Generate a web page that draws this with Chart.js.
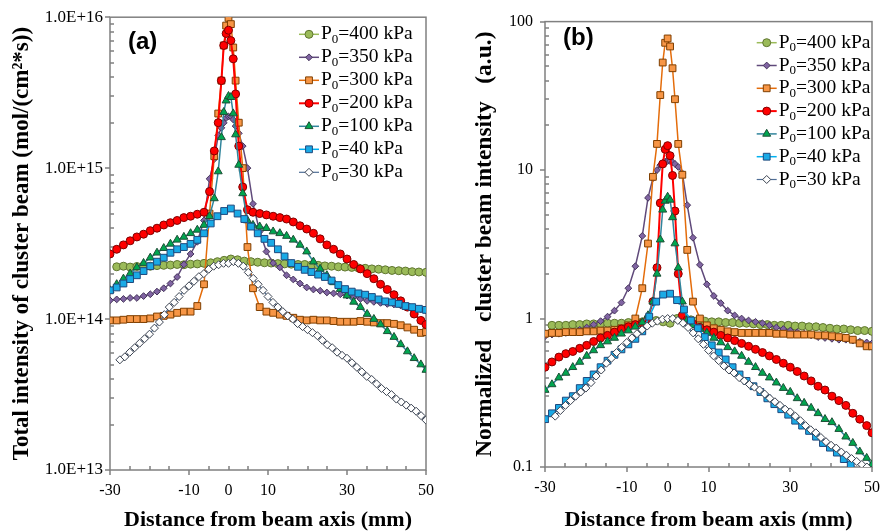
<!DOCTYPE html>
<html>
<head>
<meta charset="utf-8">
<script src="https://cdn.jsdelivr.net/npm/chart.js@4.4.0/dist/chart.umd.min.js"></script>
<style>
  html, body { margin: 0; padding: 0; background: #fff; }
  #wrap { position: relative; width: 891px; height: 531px; }
  #chartA { position: absolute; left: 0; top: 0; }
  #chartB { position: absolute; left: 445px; top: 0; }
</style>
</head>
<body>
<div id="wrap">
  <canvas id="chartA" width="445" height="531"></canvas>
  <canvas id="chartB" width="446" height="531"></canvas>
</div>
<script>
// pressures (legend order)
var pressures = ['400', '350', '300', '200', '100', '40', '30'];

// x positions (mm)
var xGrid = [-30, -28.3, -26.6, -24.9, -23.2, -21.5, -19.8, -18.1, -16.4, -14.7, -13, -11.3, -9.6, -7.9, -6.2,
  -4.8, -3.6, -2.6, -1.8, -1.2, -0.6, 0, 0.6, 1.2, 1.8, 2.6, 3.6, 4.8, 6.2, 7.9, 9.6, 11.3, 13, 14.7, 16.4,
  18.1, 19.8, 21.5, 23.2, 24.9, 26.6, 28.3, 30, 31.7, 33.4, 35.1, 36.8, 38.5, 40.2, 41.9, 43.6, 45.3, 47, 48.7, 50];
var xUni = [-30, -28.3, -26.6, -24.9, -23.2, -21.5, -19.8, -18.1, -16.4, -14.7, -13, -11.3, -9.6, -7.9, -6.2,
  -4.5, -2.8, -1.1, 0.6, 2.3, 4, 5.7, 7.4, 9.1, 10.8, 12.5, 14.2, 15.9, 17.6, 19.3, 21, 22.7, 24.4, 26.1,
  27.8, 29.5, 31.2, 32.9, 34.6, 36.3, 38, 39.7, 41.4, 43.1, 44.8, 46.5, 48.2, 50];
var x400 = [-28.3, -26.6, -24.9, -23.2, -21.5, -19.8, -18.1, -16.4, -14.7, -13, -11.3, -9.6, -7.9, -6.2,
  -4.5, -2.8, -1.1, 0.6, 2.3, 4, 5.7, 7.4, 9.1, 10.8, 12.5, 14.2, 15.9, 17.6, 19.3, 21, 22.7, 24.4, 26.1,
  27.8, 29.5, 31.2, 32.9, 34.6, 36.3, 38, 39.7, 41.4, 43.1, 44.8, 46.5, 48.2, 50];
var xFine = [-27.5, -26.25, -25, -23.75, -22.5, -21.25, -20, -18.75, -17.5, -16.25, -15, -13.75, -12.5, -11.25,
  -10, -8.75, -7.5, -6.25, -5, -3.75, -2.5, -1.25, 0, 1.25, 2.5, 3.75, 5, 6.25, 7.5, 8.75, 10, 11.25, 12.5,
  13.75, 15, 16.25, 17.5, 18.75, 20, 21.25, 22.5, 23.75, 25, 26.25, 27.5, 28.75, 30, 31.25, 32.5, 33.75, 35,
  36.25, 37.5, 38.75, 40, 41.25, 42.5, 43.75, 45, 46.25, 47.5, 48.75, 50];

// (a) total intensity, mol/(cm2*s)
var a400 = [2.22e14, 2.24e14, 2.21e14, 2.23e14, 2.25e14, 2.24e14, 2.26e14, 2.27e14, 2.28e14, 2.3e14, 2.29e14,
  2.31e14, 2.32e14, 2.34e14, 2.36e14, 2.4e14, 2.45e14, 2.5e14, 2.47e14, 2.42e14, 2.4e14, 2.38e14, 2.36e14,
  2.35e14, 2.33e14, 2.32e14, 2.31e14, 2.3e14, 2.3e14, 2.28e14, 2.27e14, 2.25e14, 2.24e14, 2.22e14, 2.21e14,
  2.2e14, 2.18e14, 2.17e14, 2.15e14, 2.14e14, 2.12e14, 2.1e14, 2.09e14, 2.08e14, 2.06e14, 2.05e14, 2.04e14];
var a350 = [1.33e14, 1.35e14, 1.36e14, 1.38e14, 1.38e14, 1.42e14, 1.46e14, 1.52e14, 1.6e14, 1.72e14, 1.9e14,
  2.3e14, 2.7e14, 3.25e14, 4.5e14, 8.5e14, 1.15e15, 1.65e15, 1.85e15, 2.0e15, 2.15e15, 2.2e15, 2.2e15, 2.1e15,
  1.9e15, 1.7e15, 1.4e15, 1.0e15, 5.8e14, 3.8e14, 2.8e14, 2.35e14, 2.2e14, 1.95e14, 1.83e14, 1.72e14, 1.62e14,
  1.57e14, 1.54e14, 1.5e14, 1.48e14, 1.46e14, 1.43e14, 1.4e14, 1.36e14, 1.32e14, 1.3e14, 1.28e14, 1.26e14,
  1.25e14, 1.23e14, 1.2e14, 1.18e14, 1.16e14, 1.14e14];
var a300 = [9.8e13, 9.8e13, 9.9e13, 1.0e14, 1.0e14, 1.0e14, 1.01e14, 1.04e14, 1.05e14, 1.07e14, 1.1e14, 1.12e14,
  1.12e14, 1.22e14, 1.7e14, 5e14, 1.2e15, 2.3e15, 3.8e15, 6.5e15, 8.8e15, 9.9e15, 9.0e15, 6.3e15, 3.8e15, 2.0e15,
  1.0e15, 3.0e14, 1.6e14, 1.2e14, 1.12e14, 1.1e14, 1.07e14, 1.05e14, 1.02e14, 9.9e13, 9.8e13, 9.9e13, 9.8e13,
  9.8e13, 9.7e13, 9.6e13, 9.6e13, 9.6e13, 9.7e13, 9.6e13, 9.5e13, 9.4e13, 9.4e13, 9.3e13, 9.1e13, 8.8e13, 8.5e13,
  8.1e13, 8.2e13];
var a200 = [2.7e14, 2.9e14, 3.1e14, 3.3e14, 3.5e14, 3.65e14, 3.85e14, 4.0e14, 4.2e14, 4.35e14, 4.5e14, 4.7e14,
  4.8e14, 4.95e14, 5.1e14, 7e14, 1.3e15, 2.0e15, 3.8e15, 6.5e15, 7.8e15, 8.2e15, 7.0e15, 5.3e15, 3.1e15, 1.4e15,
  7.5e14, 5.3e14, 5.1e14, 5.0e14, 4.9e14, 4.8e14, 4.7e14, 4.6e14, 4.4e14, 4.15e14, 3.95e14, 3.7e14, 3.4e14,
  3.1e14, 2.9e14, 2.7e14, 2.5e14, 2.3e14, 2.15e14, 2.0e14, 1.85e14, 1.7e14, 1.57e14, 1.45e14, 1.32e14, 1.2e14,
  1.08e14, 9.8e13, 9.2e13];
var a100 = [1.55e14, 1.7e14, 1.85e14, 2.0e14, 2.2e14, 2.35e14, 2.55e14, 2.75e14, 2.95e14, 3.15e14, 3.35e14,
  3.5e14, 3.7e14, 3.9e14, 4.2e14, 4.8e14, 6.3e14, 9.5e14, 1.6e15, 2.35e15, 2.8e15, 3.0e15, 2.95e15, 2.3e15,
  1.67e15, 1.05e15, 6.8e14, 4.5e14, 4.2e14, 4.1e14, 4.0e14, 3.8e14, 3.7e14, 3.55e14, 3.35e14, 3.1e14, 2.8e14,
  2.4e14, 2.15e14, 1.95e14, 1.75e14, 1.58e14, 1.43e14, 1.3e14, 1.2e14, 1.08e14, 1.0e14, 9.2e13, 8.3e13, 7.6e13,
  6.8e13, 6.1e13, 5.5e13, 5.0e13, 4.6e13];
var a40 = [1.55e14, 1.62e14, 1.72e14, 1.84e14, 1.95e14, 2.08e14, 2.24e14, 2.4e14, 2.55e14, 2.75e14, 2.9e14,
  3.0e14, 3.15e14, 3.35e14, 3.7e14, 4.3e14, 4.8e14, 5.2e14, 5.4e14, 5.0e14, 4.6e14, 4.1e14, 3.7e14, 3.4e14,
  3.2e14, 2.9e14, 2.6e14, 2.35e14, 2.22e14, 2.12e14, 2.05e14, 1.97e14, 1.9e14, 1.8e14, 1.68e14, 1.58e14,
  1.52e14, 1.48e14, 1.45e14, 1.4e14, 1.35e14, 1.31e14, 1.29e14, 1.26e14, 1.22e14, 1.2e14, 1.17e14, 1.15e14];
var a30 = [5.37e13, 5.62e13, 6.03e13, 6.46e13, 6.92e13, 7.41e13, 7.94e13, 8.71e13, 9.55e13, 1.07e14, 1.2e14,
  1.29e14, 1.41e14, 1.55e14, 1.66e14, 1.78e14, 1.91e14, 2.0e14, 2.14e14, 2.24e14, 2.29e14, 2.34e14, 2.34e14,
  2.4e14, 2.34e14, 2.24e14, 2.04e14, 1.86e14, 1.7e14, 1.55e14, 1.41e14, 1.29e14, 1.2e14, 1.12e14, 1.05e14,
  1.0e14, 9.33e13, 8.91e13, 8.51e13, 8.13e13, 7.76e13, 7.24e13, 6.76e13, 6.46e13, 6.03e13, 5.75e13, 5.5e13,
  5.13e13, 4.79e13, 4.47e13, 4.17e13, 3.98e13, 3.72e13, 3.47e13, 3.31e13, 3.16e13, 2.95e13, 2.82e13, 2.69e13,
  2.57e13, 2.45e13, 2.29e13, 2.14e13];

// (b) normalized intensity, a.u.
var b400 = [0.9, 0.9, 0.9, 0.91, 0.91, 0.92, 0.92, 0.92, 0.93, 0.93, 0.93, 0.94, 0.94, 0.95, 0.96, 0.97, 0.95,
  0.93, 1.0, 0.99, 0.98, 0.97, 0.96, 0.95, 0.95, 0.94, 0.94, 0.93, 0.93, 0.92, 0.91, 0.91, 0.9, 0.9, 0.9, 0.89,
  0.89, 0.88, 0.88, 0.87, 0.86, 0.85, 0.85, 0.84, 0.83, 0.83, 0.82];
var b350 = [0.76, 0.78, 0.79, 0.8, 0.82, 0.84, 0.87, 0.91, 0.96, 1.03, 1.13, 1.28, 1.6, 2.25, 3.6, 6.5, 8.8, 10.0,
  10.8, 11.2, 11.4, 11.5, 11.5, 11.3, 11.0, 10.5, 9.5, 5.8, 3.5, 2.3, 1.7, 1.42, 1.27, 1.13, 1.05, 1.0, 0.97,
  0.95, 0.93, 0.9, 0.87, 0.85, 0.83, 0.81, 0.79, 0.77, 0.75, 0.74, 0.73, 0.72, 0.72, 0.71, 0.7, 0.69, 0.68];
var b300 = [0.79, 0.8, 0.8, 0.81, 0.81, 0.81, 0.82, 0.82, 0.83, 0.83, 0.84, 0.86, 0.9, 1.0, 1.6, 3.2, 9, 15, 32,
  53, 72, 77, 68, 48.5, 30, 15, 9.3, 2.9, 1.3, 1.0, 0.9, 0.86, 0.84, 0.82, 0.81, 0.8, 0.8, 0.8, 0.8, 0.8, 0.79,
  0.79, 0.78, 0.78, 0.78, 0.78, 0.77, 0.77, 0.76, 0.75, 0.74, 0.72, 0.68, 0.65, 0.65];
var b200 = [0.47, 0.51, 0.55, 0.58, 0.6, 0.63, 0.66, 0.7, 0.74, 0.77, 0.81, 0.85, 0.88, 0.91, 0.93, 1.0, 1.3, 2.2,
  6.0, 11, 13.8, 14.6, 12.5, 9.2, 5.3, 2.0, 1.05, 0.98, 0.92, 0.87, 0.84, 0.81, 0.77, 0.74, 0.71, 0.68, 0.65,
  0.62, 0.59, 0.56, 0.53, 0.5, 0.47, 0.44, 0.41, 0.38, 0.35, 0.33, 0.3, 0.28, 0.26, 0.23, 0.21, 0.19, 0.17];
var b100 = [0.33, 0.36, 0.4, 0.43, 0.47, 0.51, 0.56, 0.61, 0.66, 0.7, 0.74, 0.79, 0.83, 0.88, 0.94, 1.05, 1.3, 2.0,
  3.4, 5.4, 6.2, 6.6, 6.3, 4.8, 3.2, 2.2, 1.3, 0.98, 0.9, 0.85, 0.8, 0.74, 0.69, 0.64, 0.6, 0.56, 0.51, 0.47,
  0.43, 0.4, 0.37, 0.34, 0.32, 0.29, 0.27, 0.25, 0.23, 0.21, 0.2, 0.18, 0.16, 0.145, 0.127, 0.115, 0.104];
var b40 = [0.21, 0.23, 0.25, 0.28, 0.3, 0.34, 0.38, 0.42, 0.47, 0.52, 0.57, 0.62, 0.67, 0.73, 0.82, 1.03, 1.3,
  1.45, 1.47, 1.33, 1.15, 0.97, 0.86, 0.75, 0.66, 0.59, 0.53, 0.47, 0.42, 0.38, 0.35, 0.32, 0.29, 0.265, 0.245,
  0.225, 0.205, 0.19, 0.175, 0.16, 0.145, 0.135, 0.125, 0.113, 0.104];
var b30 = [0.22, 0.24, 0.26, 0.28, 0.3, 0.32, 0.34, 0.37, 0.41, 0.45, 0.5, 0.54, 0.59, 0.64, 0.69, 0.74, 0.79,
  0.84, 0.89, 0.93, 0.96, 0.99, 1.0, 1.0, 0.97, 0.93, 0.87, 0.8, 0.73, 0.67, 0.61, 0.56, 0.52, 0.48, 0.45, 0.43,
  0.4, 0.38, 0.36, 0.345, 0.33, 0.31, 0.29, 0.275, 0.26, 0.245, 0.235, 0.22, 0.205, 0.19, 0.178, 0.17, 0.158,
  0.148, 0.14, 0.134, 0.126, 0.12, 0.114, 0.109, 0.104, 0.1];

// tick labels
var xTickLabels = [-30, -10, 0, 10, 30, 50];
var xTickMarks = [-30, -25, -20, -15, -10, -5, 0, 5, 10, 15, 20, 25, 30, 35, 40, 45, 50];
var yTicksA = [1e13, 1e14, 1e15, 1e16];
var yTicksB = [0.1, 1, 10, 100];

var SERIF = '"Liberation Serif", "Times New Roman", serif';

// series look, same order as pressures
var looks = [
  { line: '#9BBB59', fill: '#9BBB59', edge: '#5F7530', shape: 'circle',   r: 4.0, w: 1.5 },
  { line: '#604A7B', fill: '#8064A2', edge: '#45355A', shape: 'rectRot',  r: 3.4, w: 1.5 },
  { line: '#E46C0A', fill: '#F79646', edge: '#7F3F00', shape: 'rect',     r: 4.8, w: 1.5 },
  { line: '#FF0000', fill: '#FF0000', edge: '#800000', shape: 'circle',   r: 4.0, w: 2 },
  { line: '#31859C', fill: '#00A650', edge: '#1D4F36', shape: 'triangle', r: 4.6, w: 1.5 },
  { line: '#00B0F0', fill: '#1AAAE6', edge: '#1F497D', shape: 'rect',     r: 4.8, w: 1.5 },
  { line: '#4F6E96', fill: '#FFFFFF', edge: '#3A4250', shape: 'rectRot',  r: 4.0, w: 1.2 }
];

function pts(xs, ys) {
  return ys.map(function (v, i) { return { x: xs[i], y: v }; });
}

function makeSets(series) {
  return series.map(function (s, i) {
    var lk = looks[i];
    return {
      label: 'P0=' + pressures[i] + ' kPa',
      data: pts(s[0], s[1]),
      borderColor: lk.line,
      borderWidth: lk.w,
      pointStyle: lk.shape,
      pointRadius: lk.r,
      pointBackgroundColor: lk.fill,
      pointBorderColor: lk.edge,
      pointBorderWidth: 1,
      tension: 0,
      order: pressures.length - i
    };
  });
}

var deco = {
  id: 'deco',
  beforeDatasetsDraw: function (chart, args, o) {
    var ctx = chart.ctx, a = chart.chartArea;
    var xs = chart.scales.x, ys = chart.scales.y;
    ctx.save();
    ctx.strokeStyle = '#808080';
    ctx.lineWidth = 1.5;
    ctx.strokeRect(a.left, a.top, a.right - a.left, a.bottom - a.top);
    ctx.beginPath();
    xTickMarks.forEach(function (v) {
      var px = Math.round(xs.getPixelForValue(v));
      var major = v !== 0 && xTickLabels.indexOf(v) >= 0;
      if (major) { ctx.moveTo(px, a.bottom); ctx.lineTo(px, a.bottom + 5); }
      else { ctx.moveTo(px, a.bottom); ctx.lineTo(px, a.bottom - 4); }
    });
    o.yTicks.forEach(function (d, k) {
      var py = Math.round(ys.getPixelForValue(d));
      ctx.moveTo(a.left - 5, py); ctx.lineTo(a.left, py);
      if (k < o.yTicks.length - 1) {
        for (var m = 2; m <= 9; m++) {
          var pm = Math.round(ys.getPixelForValue(d * m));
          ctx.moveTo(a.left, pm); ctx.lineTo(a.left + 4, pm);
        }
      }
    });
    ctx.stroke();
    ctx.restore();
  },
  afterDatasetsDraw: function (chart, args, o) {
    var ctx = chart.ctx;
    ctx.save();
    ctx.fillStyle = '#000';
    ctx.textBaseline = 'middle';
    ctx.textAlign = 'left';
    ctx.font = 'bold 24px "Liberation Sans", Arial, sans-serif';
    ctx.fillText(o.tag, o.tagX, o.tagY);

    chart.data.datasets.forEach(function (ds, i) {
      var y = o.legY + i * o.legDy;
      var x0 = o.legX;
      ctx.strokeStyle = ds.borderColor;
      ctx.lineWidth = ds.borderWidth;
      ctx.beginPath();
      ctx.moveTo(x0, y); ctx.lineTo(x0 + 20, y);
      ctx.stroke();
      ctx.fillStyle = ds.pointBackgroundColor;
      ctx.strokeStyle = ds.pointBorderColor;
      ctx.lineWidth = 1;
      Chart.helpers.drawPoint(ctx, { pointStyle: ds.pointStyle, radius: ds.pointRadius, borderWidth: 1, rotation: 0 }, x0 + 10, y);

      var tx = x0 + 22;
      ctx.fillStyle = '#000';
      ctx.font = o.legSize + 'px ' + SERIF;
      ctx.fillText('P', tx, y);
      tx += ctx.measureText('P').width;
      ctx.font = Math.round(o.legSize * 0.68) + 'px ' + SERIF;
      ctx.fillText('0', tx, y + 5);
      tx += ctx.measureText('0').width;
      ctx.font = o.legSize + 'px ' + SERIF;
      ctx.fillText('=' + pressures[i] + ' kPa', tx, y);
    });
    ctx.restore();
  }
};

function makeChart(id, series, yMin, yMax, yTicks, yFmt, yTitle, geo) {
  return new Chart(document.getElementById(id), {
    type: 'line',
    data: { datasets: makeSets(series) },
    plugins: [deco],
    options: {
      responsive: false,
      animation: false,
      events: [],
      layout: { padding: { left: 0, top: geo.top, right: geo.right, bottom: 0 } },
      plugins: {
        legend: { display: false },
        tooltip: { enabled: false },
        deco: geo.deco
      },
      scales: {
        x: {
          type: 'linear', min: -30, max: 50,
          grid: { display: false, drawTicks: false },
          border: { display: false },
          afterBuildTicks: function (s) { s.ticks = xTickLabels.map(function (v) { return { value: v }; }); },
          afterFit: function (s) { s.height = geo.xh; },
          ticks: { color: '#000', font: { family: SERIF, size: 16 }, padding: 11, maxRotation: 0, autoSkip: false },
          title: {
            display: true, text: 'Distance from beam axis (mm)', color: '#000',
            font: { family: SERIF, size: 22, weight: 'bold', lineHeight: 1 },
            padding: { top: 0, bottom: 0 }
          }
        },
        y: {
          type: 'logarithmic', min: yMin, max: yMax,
          grid: { display: false, drawTicks: false },
          border: { display: false },
          afterBuildTicks: function (s) { s.ticks = yTicks.map(function (v) { return { value: v }; }); },
          afterFit: function (s) { s.width = geo.yw; },
          ticks: { color: '#000', font: { family: SERIF, size: geo.ySize }, padding: geo.yPad, callback: yFmt, autoSkip: false },
          title: {
            display: true, text: yTitle, color: '#000',
            font: { family: SERIF, size: geo.tSize, weight: 'bold', lineHeight: 1 },
            padding: { top: geo.titlePad, bottom: 0 }
          }
        }
      }
    }
  });
}

makeChart('chartA',
  [[x400, a400], [xGrid, a350], [xGrid, a300], [xGrid, a200], [xGrid, a100], [xUni, a40], [xFine, a30]],
  1e13, 1e16, yTicksA,
  function (v) { return '1.0E+' + Math.round(Math.log10(v)); },
  'Total intensity of cluster beam (mol/(cm\u00B2*s))',
  { top: 16, right: 15, xh: 61, yw: 110, ySize: 17, yPad: 7, tSize: 23, titlePad: 10.5,
    deco: { yTicks: yTicksA, tag: '(a)', tagX: 128, tagY: 42, legX: 299, legY: 34.3, legDy: 23, legSize: 19.5 } });

makeChart('chartB',
  [[x400, b400], [xGrid, b350], [xGrid, b300], [xGrid, b200], [xGrid, b100], [xUni, b40], [xFine, b30]],
  0.1, 100, yTicksB,
  function (v) { return String(v); },
  'Normalized   cluster beam intensity   (a.u.)',
  { top: 18, right: 8, xh: 64, yw: 100, ySize: 16, yPad: 12, tSize: 23.5, titlePad: 28,
    deco: { yTicks: yTicksB, tag: '(b)', tagX: 118, tagY: 38, legX: 311.7, legY: 42.7, legDy: 22.8, legSize: 19.5 } });
</script>
</body>
</html>
